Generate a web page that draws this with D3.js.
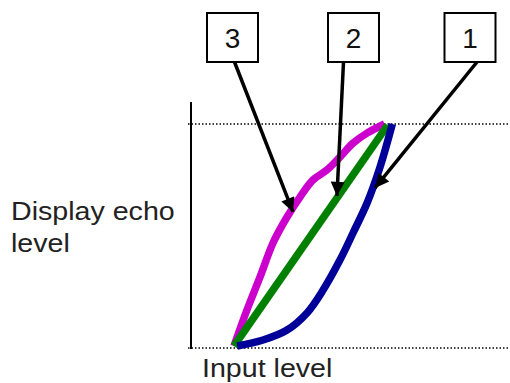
<!DOCTYPE html>
<html>
<head>
	<meta charset="utf-8">
	<title>Echo level curves</title>
	<script src="https://cdn.jsdelivr.net/npm/d3@7"></script>
	<style>
		body { margin: 0; background: #fff; }
		svg { display: block; font-family: "Liberation Sans", Arial, sans-serif; }
	</style>
</head>
<body>
	<div id="chart"></div>
	<script>

		// data: [input level, display echo level], both 0..100

		const curve1 = [[2, 0], [18.6, 2.7], [34, 7.2], [46.8, 14.9], [57.1, 25.2], [67.9, 38.7],
			[76.3, 50.9], [85.3, 64.4], [93.6, 80.6], [101.5, 100]];
		const curve2 = [[0, 0], [98.5, 99.5]];
		const curve3 = [[0, 0], [8.3, 16.2], [16.7, 31.1], [25, 46.4], [34, 58.1], [42.3, 67.1],
			[50.6, 74.8], [59.6, 79.3], [67.9, 85.1], [76.3, 91.4], [85.3, 95.9], [96.5, 100]];

		const seriesNames = ["1", "2", "3"];
		const seriesColors = ["#000099", "#008000", "#cc00cc"];

		// arrow tip for each label, in data units
		const arrowTips = [[90.4, 71.2], [66, 67.6], [37.8, 60.4]];
		// box centre x for each label (pixels)
		const boxCenters = [470, 353.5, 232.5];

		const width = 510, height = 383;

		const x = d3.scaleLinear().domain([0, 100]).range([234, 390]);
		const y = d3.scaleLinear().domain([0, 100]).range([346, 124]);

		const svg = d3.select("#chart").append("svg")
			.attr("width", width)
			.attr("height", height);

		// dotted reference lines
		svg.selectAll(".ref")
			.data([0, 100])
			.join("line")
			.attr("x1", 188).attr("x2", width)
			.attr("y1", d => y(d) + (d === 0 ? 2 : 0)).attr("y2", d => y(d) + (d === 0 ? 2 : 0))
			.attr("stroke", "#000")
			.attr("stroke-width", 1.3)
			.attr("stroke-dasharray", "1.5,2");

		// vertical axis
		svg.append("line")
			.attr("x1", 191).attr("x2", 191)
			.attr("y1", 102).attr("y2", 349)
			.attr("stroke", "#000")
			.attr("stroke-width", 2);

		const line = d3.line()
			.x(d => x(d[0]))
			.y(d => y(d[1]))
			.curve(d3.curveCatmullRom.alpha(0.5));

		const curves = [curve1, curve2, curve3];
		svg.selectAll(".curve")
			.data([2, 1, 0])
			.join("path")
			.attr("d", i => line(curves[i]))
			.attr("fill", "none")
			.attr("stroke", i => seriesColors[i])
			.attr("stroke-width", 7.5);

		// arrowhead marker
		svg.append("defs").append("marker")
			.attr("id", "head")
			.attr("viewBox", "0 0 10 10")
			.attr("refX", 10).attr("refY", 5)
			.attr("markerUnits", "userSpaceOnUse")
			.attr("markerWidth", 16).attr("markerHeight", 14)
			.attr("orient", "auto")
			.append("path")
			.attr("d", "M0,0L10,5L0,10Z")
			.attr("fill", "#000");

		// label boxes and arrows
		const boxW = 51, boxH = 49, boxTop = 13;
		const labels = svg.selectAll(".label")
			.data(seriesNames)
			.join("g");

		labels.append("line")
			.attr("x1", (d, i) => boxCenters[i] + [7, -10, 2][i])
			.attr("y1", boxTop + boxH)
			.attr("x2", (d, i) => x(arrowTips[i][0]))
			.attr("y2", (d, i) => y(arrowTips[i][1]))
			.attr("stroke", "#000")
			.attr("stroke-width", 3.5)
			.attr("marker-end", "url(#head)");

		labels.append("rect")
			.attr("x", (d, i) => boxCenters[i] - boxW / 2)
			.attr("y", boxTop)
			.attr("width", boxW)
			.attr("height", boxH)
			.attr("fill", "#fff")
			.attr("stroke", "#000")
			.attr("stroke-width", 2);

		labels.append("text")
			.attr("x", (d, i) => boxCenters[i])
			.attr("y", boxTop + boxH / 2 + 10)
			.attr("text-anchor", "middle")
			.attr("font-size", 28)
			.attr("fill", "#111")
			.text(d => d);

		// axis titles
		const yTitle = svg.append("text")
			.attr("font-size", 26)
			.attr("fill", "#222")
			.attr("transform", "translate(11,220) scale(1.1,1)");
		yTitle.append("tspan").attr("x", 0).attr("y", 0).text("Display echo");
		yTitle.append("tspan").attr("x", 0).attr("y", 32).text("level");

		svg.append("text")
			.attr("font-size", 26)
			.attr("fill", "#222")
			.attr("transform", "translate(202,377) scale(1.1,1)")
			.text("Input level");

	</script>
</body>
</html>
